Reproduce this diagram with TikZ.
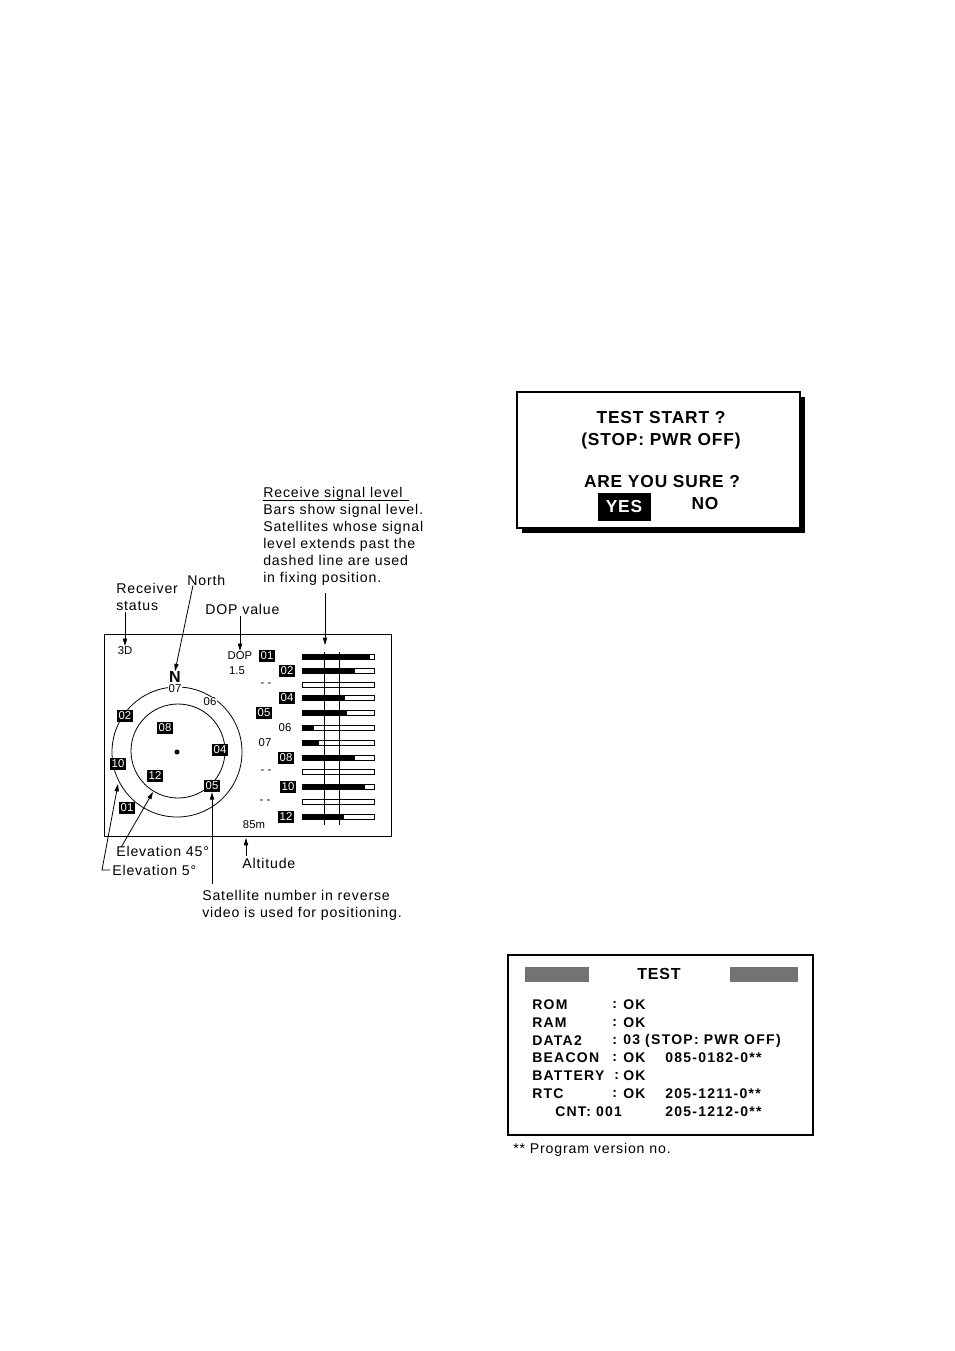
\documentclass[tikz,border=0pt]{standalone}
\usepackage{fontspec}
\setmainfont{Liberation Sans}
\newfontfamily\scrfont[LetterSpace=5]{Liberation Sans}
\newfontfamily\tbfont[LetterSpace=9]{Liberation Sans}
\newfontfamily\annfont[LetterSpace=6]{Liberation Sans}
\usetikzlibrary{arrows.meta,shadows}
\begin{document}
\begin{tikzpicture}[x=0.75pt,y=-0.75pt,
  ann/.style={font=\annfont\fontsize{10.6}{12.75}\selectfont, inner sep=0pt, align=left, anchor=west},
  sm/.style={font=\fontsize{8.5}{9}\selectfont, inner sep=0.6pt},
  plain/.style={sm, fill=white},
  rev/.style={fill=black, text=white, font=\fontsize{8.5}{9}\selectfont, minimum width=12pt, minimum height=9pt, inner sep=0pt},
  arr/.style={-{Triangle[length=5.5pt,width=3.2pt]}, line width=0.6pt},
  ln/.style={line width=0.6pt},
  bd/.style={font=\scrfont\fontsize{13}{14}\selectfont\bfseries, inner sep=0pt},
  tb/.style={font=\tbfont\fontsize{10.5}{12}\selectfont\bfseries, inner sep=0pt, anchor=west},
  graybar/.style={fill=black!55, minimum height=11.25pt, inner sep=0pt},
]
\useasboundingbox (0,0) rectangle (954,1351);

% ---------------- GPS screen ----------------
\node[draw, line width=0.7pt, minimum width=215.25pt, minimum height=151.5pt, inner sep=0pt] (scr) at (247.5,735) {};

% sky plot circles
\draw[ln] (177,752) circle[radius=48.75pt];
\draw[ln] (178,751) circle[radius=35.25pt];
\node[circle, fill, inner sep=0pt, minimum size=3.8pt] (ctr) at (177,752) {};

\node[sm] (d3) at (125,651) {3D};
\node[font=\fontsize{12}{12}\selectfont\bfseries, inner sep=0pt] (nN) at (175,677) {N};
\node[plain] (p07) at (175,689) {07};
\node[plain] (p06) at (210,702) {06};
\node[rev] (s02) at (125,716) {02};
\node[rev] (s08) at (165,728) {08};
\node[rev] (s04) at (220,750) {04};
\node[rev] (s10) at (118,764) {10};
\node[rev] (s12) at (155,776) {12};
\node[rev] (s05) at (212,786) {05};
\node[rev] (s01) at (127,808) {01};

\node[sm] (dop) at (240,656) {DOP};
\node[sm] (dopval) at (237,671) {1.5};
\node[sm] (alt85) at (254,825) {85m};

% signal bars
\foreach \y/\f in {657/370, 671/355, 685/302, 698/345, 713/347, 728/314, 743/319, 758/355, 772/302, 787/365, 802/302, 817/344} {
  \fill (302,\y-2.5) rectangle (\f,\y+2.5);
  \draw[ln] (302,\y-2.5) rectangle (374,\y+2.5);
}
\coordinate (v1t) at (324,652);
\coordinate (v1b) at (324,825);
\coordinate (v2t) at (339,652);
\coordinate (v2b) at (339,825);
\draw[ln] (v1t) -- (v1b);
\draw[ln] (v2t) -- (v2b);

\node[rev] (r01) at (267,656) {01};
\node[rev] (r02) at (287,671) {02};
\node[sm]  (r03) at (266,685) {- -};
\node[rev] (r04) at (287,698) {04};
\node[rev] (r05) at (264,713) {05};
\node[sm]  (r06) at (285,728) {06};
\node[sm]  (r07) at (265,743) {07};
\node[rev] (r08) at (286,758) {08};
\node[sm]  (r09) at (266,772) {- -};
\node[rev] (r10) at (288,787) {10};
\node[sm]  (r11) at (265,802) {- -};
\node[rev] (r12) at (286,817) {12};

% ---------------- annotations ----------------
\node[ann] (rs) at (116,597) {Receiver\\status};
\node[ann] (north) at (187,580) {North};
\node[ann] (dopv) at (205,609) {DOP value};
\node[ann] (sig) at (263,536) {Receive signal level\\Bars show signal level.\\Satellites whose signal\\level extends past the\\dashed line are used\\in fixing position.};
\draw[ln] (263,500) -- (409,500);
\node[ann] (e45) at (116,851) {Elevation 45°};
\node[ann] (e5) at (112,870) {Elevation 5°};
\node[ann] (alt) at (242,863) {Altitude};
\node[ann] (satn) at (202,905) {Satellite number in reverse\\video is used for positioning.};

\coordinate (sigtip) at (325,645);
\coordinate (alttip) at (246,838);
\coordinate (in45) at (153,792);
\coordinate (in5) at (118,784);

\draw[arr, shorten <=1pt] (d3.north |- rs.south) -- (d3.north);
\draw[arr] ([xshift=4.5pt]north.south west) -- (nN.north);
\draw[arr, shorten <=1pt] (dop.north |- dopv.south) -- (dop.north);
\draw[arr, shorten <=6pt] (sigtip |- sig.south) -- (sigtip);
\draw[arr, shorten <=1pt] (alttip |- alt.north) -- (alttip);
\draw[arr, shorten <=4pt] (s05.south |- satn.north) -- (s05.south);
\draw[arr] ([xshift=4pt,yshift=-1pt]e45.north west) -- (in45);
\draw[arr] ([xshift=-1.5pt]e5.west) -- ++(-8,0) -- (in5);

% ---------------- TEST START dialog ----------------
\node[draw, fill=white, line width=0.8pt, minimum width=212.25pt, minimum height=102pt, inner sep=0pt,
      drop shadow={fill=black, opacity=1, shadow xshift=3.5pt, shadow yshift=-3.5pt}] (tsbox) at (658.5,460) {};
\node[bd] (t1) at (661,418) {TEST START ?};
\node[bd] (t2) at (661,441) {(STOP: PWR OFF)};
\node[bd] (t3) at (662,482) {ARE YOU SURE ?};
\node[bd, fill=black, text=white, minimum width=39.75pt, minimum height=21pt] (yes) at (624,507) {YES};
\node[bd] (no) at (705,504) {NO};

% ---------------- TEST screen ----------------
\node[draw, line width=0.8pt, minimum width=228.75pt, minimum height=135pt, inner sep=0pt] (tbox) at (660.5,1045) {};
\node[graybar, minimum width=48pt] (g1) at (557,974.5) {};
\node[graybar, minimum width=51pt] (g2) at (764,974.5) {};
\node[bd, font=\scrfont\fontsize{12}{13}\selectfont\bfseries] (ttl) at (659,974) {TEST};

\node[tb] (l1) at (532,1005) {ROM};
\node[tb] (l2) at (532,1023) {RAM};
\node[tb] (l3) at (532,1041) {DATA2};
\node[tb] (l4) at (532,1058) {BEACON};
\node[tb] (l5) at (532,1076) {BATTERY};
\node[tb] (l6) at (532,1094) {RTC};
\node[tb] (l7) at (555,1112) {CNT: 001};

\node[tb] (c1) at (612,1005) {:};
\node[tb] (c2) at (612,1023) {:};
\node[tb] (c3) at (612,1041) {:};
\node[tb] (c4) at (612,1058) {:};
\node[tb] (c5) at (614,1076) {:};
\node[tb] (c6) at (612,1094) {:};

\node[tb] (o1) at (623,1005) {OK};
\node[tb] (o2) at (623,1023) {OK};
\node[tb] (o3) at (623,1041) {03 (STOP: PWR OFF)};
\node[tb] (o4) at (623,1058) {OK};
\node[tb] (o5) at (623,1076) {OK};
\node[tb] (o6) at (623,1094) {OK};

\node[tb] (v4) at (665,1058) {085-0182-0**};
\node[tb] (v6) at (665,1094) {205-1211-0**};
\node[tb] (v7) at (665,1112) {205-1212-0**};

\node[ann] (foot) at (513,1150) {** Program version no.};
\end{tikzpicture}
\end{document}
